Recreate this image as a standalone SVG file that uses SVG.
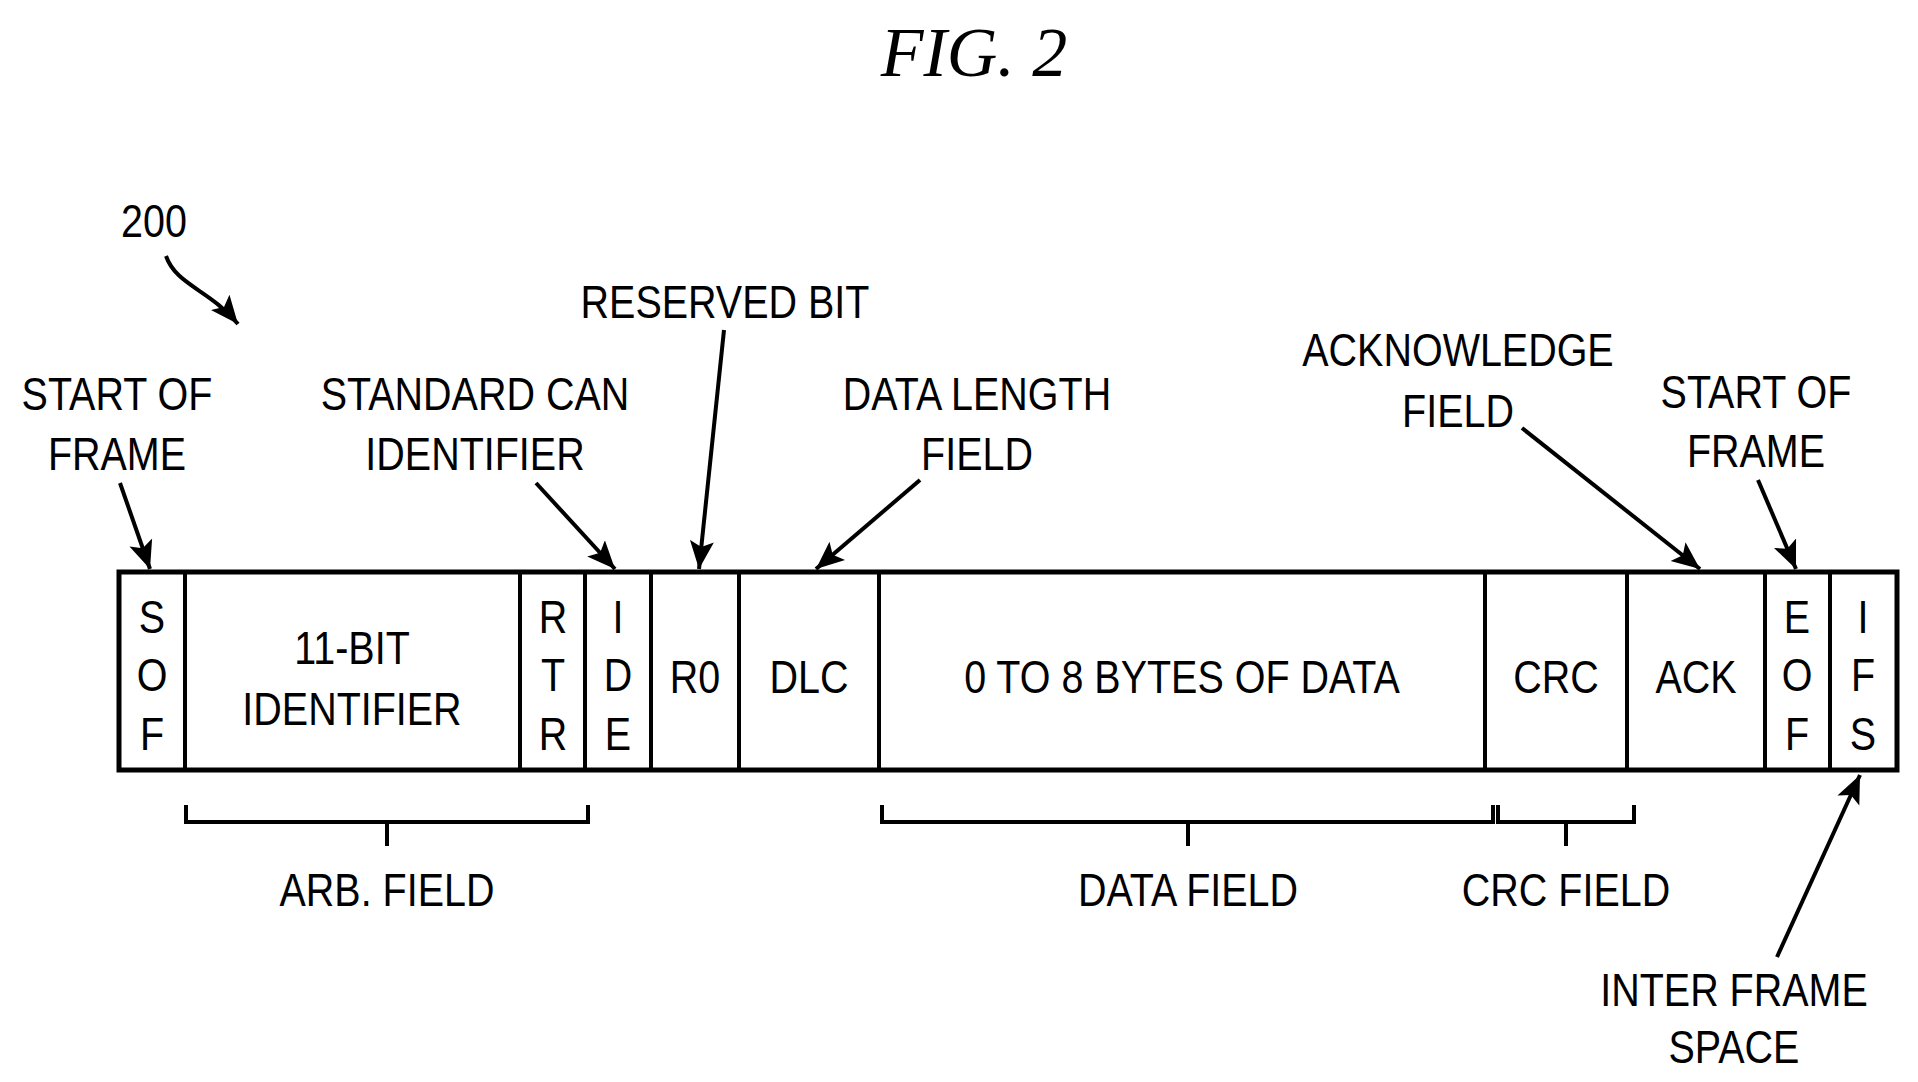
<svg xmlns="http://www.w3.org/2000/svg" width="1918" height="1082" viewBox="0 0 1918 1082">
<defs>
<marker id="ah" markerWidth="8" markerHeight="8" refX="7" refY="4" orient="auto" markerUnits="strokeWidth"><path d="M0,1 L7,4 L0,7 L1.5,4 Z" fill="#000"/></marker>
<style>
text{font-family:"Liberation Sans Narrow","Liberation Sans",Arial,sans-serif;font-size:47px;text-anchor:middle;fill:#000;transform-box:fill-box;transform-origin:center;transform:scaleX(0.84)}
.c{stroke:#000;stroke-width:4;fill:none}
.b{stroke:#000;stroke-width:5;fill:#fff}
.a{stroke:#000;stroke-width:4;fill:none;marker-end:url(#ah)}
text.t{font-family:"Liberation Serif","Times New Roman",serif;font-style:italic;font-size:70px;transform:none}
</style>
</defs>
<rect width="1918" height="1082" fill="#fff"/>
<text class="t" x="974" y="76">FIG. 2</text>
<g id="ref200"><text x="154" y="237">200</text></g>
<g id="frame">
<rect class="b" x="119" y="572" width="1778" height="198"/>
<path class="c" d="M185,572V770M520,572V770M585,572V770M651,572V770M739,572V770M879,572V770M1485,572V770M1627,572V770M1765,572V770M1830,572V770"/>
</g>
<g id="sof"><text x="152" y="633">S</text><text x="152" y="691">O</text><text x="152" y="750">F</text></g>
<g id="id11"><text x="352" y="664">11-BIT</text><text x="352" y="725">IDENTIFIER</text></g>
<g id="rtr"><text x="553" y="633">R</text><text x="553" y="691">T</text><text x="553" y="750">R</text></g>
<g id="ide"><text x="618" y="633">I</text><text x="618" y="691">D</text><text x="618" y="750">E</text></g>
<g id="r0"><text x="695" y="693">R0</text></g>
<g id="dlc"><text x="809" y="693">DLC</text></g>
<g id="data"><text x="1182" y="693">0 TO 8 BYTES OF DATA</text></g>
<g id="crc"><text x="1556" y="693">CRC</text></g>
<g id="ack"><text x="1696" y="693">ACK</text></g>
<g id="eof"><text x="1797" y="633">E</text><text x="1797" y="691">O</text><text x="1797" y="750">F</text></g>
<g id="ifs"><text x="1863" y="633">I</text><text x="1863" y="691">F</text><text x="1863" y="750">S</text></g>
<g id="lbl-sof1"><text x="117" y="410">START OF</text><text x="117" y="470">FRAME</text></g>
<g id="lbl-can"><text x="475" y="410">STANDARD CAN</text><text x="475" y="470">IDENTIFIER</text></g>
<g id="lbl-res"><text x="725" y="318">RESERVED BIT</text></g>
<g id="lbl-dlf"><text x="977" y="410">DATA LENGTH</text><text x="977" y="470">FIELD</text></g>
<g id="lbl-ack"><text x="1458" y="366">ACKNOWLEDGE</text><text x="1458" y="427">FIELD</text></g>
<g id="lbl-sof2"><text x="1756" y="408">START OF</text><text x="1756" y="467">FRAME</text></g>
<g id="lbl-ifs"><text x="1734" y="1006">INTER FRAME</text><text x="1734" y="1063">SPACE</text></g>
<g id="lbl-arb"><text x="387" y="906">ARB. FIELD</text></g>
<g id="lbl-data"><text x="1188" y="906">DATA FIELD</text></g>
<g id="lbl-crc"><text x="1566" y="906">CRC FIELD</text></g>
<g id="connectors">
<path class="a" d="M166,256 C176,285 210,290 238,324"/>
<path class="a" d="M120,483 L150,569"/>
<path class="a" d="M536,483 L615,569"/>
<path class="a" d="M724,330 L699,569"/>
<path class="a" d="M920,480 L816,569"/>
<path class="a" d="M1522,428 L1700,569"/>
<path class="a" d="M1758,480 L1796,569"/>
<path class="a" d="M1777,957 L1860,775"/>
<path class="c" d="M186,805V822H588V805M387,822V846"/>
<path class="c" d="M882,805V822H1493V805M1188,822V846"/>
<path class="c" d="M1498,805V822H1634V805M1566,822V846"/>
</g>
</svg>
